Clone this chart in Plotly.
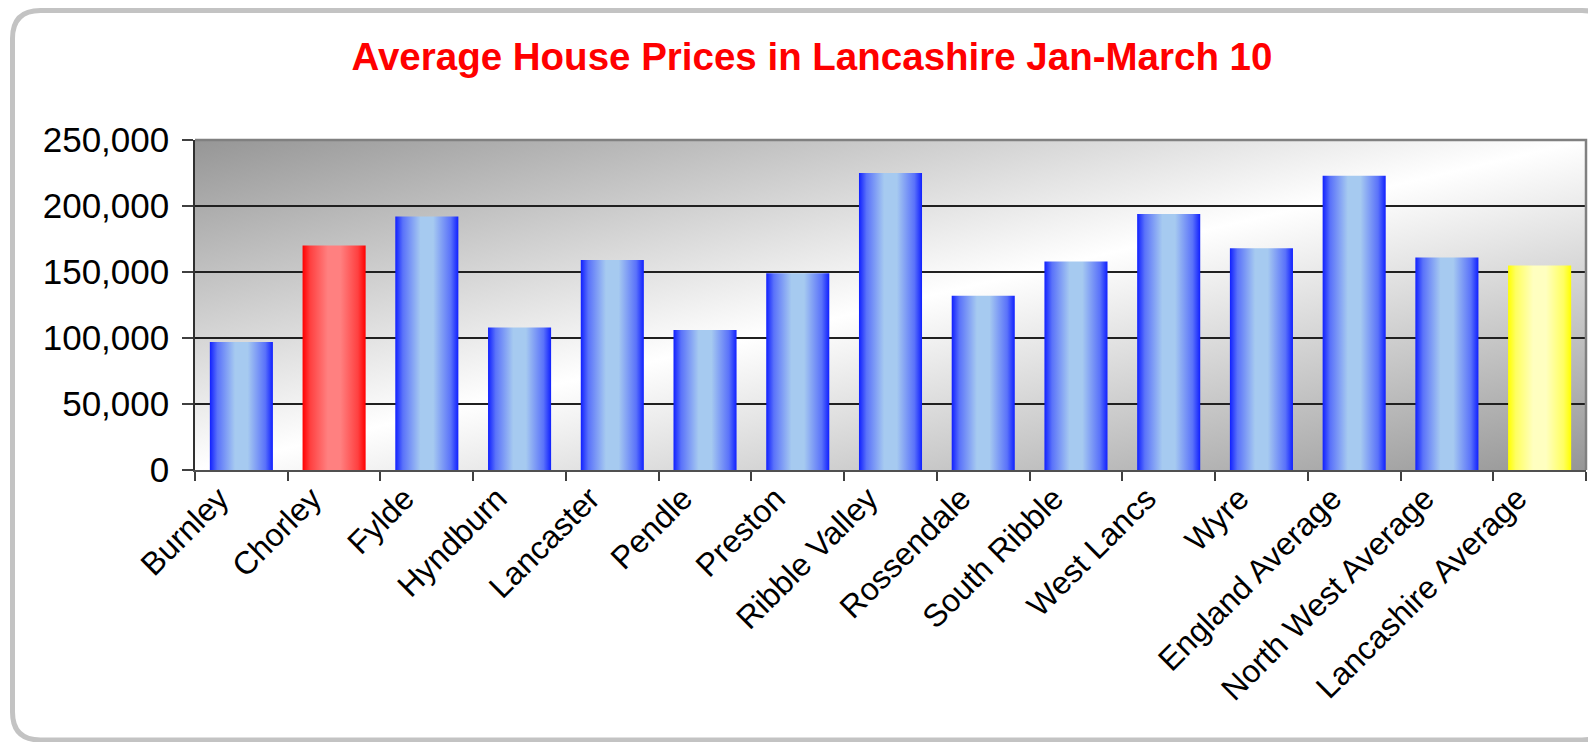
import base64
import plotly.graph_objects as go

# ---------------- data ----------------
categories = ["Burnley", "Chorley", "Fylde", "Hyndburn", "Lancaster", "Pendle",
              "Preston", "Ribble Valley", "Rossendale", "South Ribble", "West Lancs",
              "Wyre", "England Average", "North West Average", "Lancashire Average"]
prices = [97000, 170000, 192000, 108000, 159000, 106000, 149000, 225000,
          132000, 158000, 194000, 168000, 223000, 161000, 155000]
bar_palette = ["blue", "red", "blue", "blue", "blue", "blue", "blue", "blue",
               "blue", "blue", "blue", "blue", "blue", "blue", "yellow"]
y_ticks = [0, 50000, 100000, 150000, 200000, 250000]
title_text = "Average House Prices in Lancashire Jan-March 10"

# ---------------- styling ----------------
WIN_W, WIN_H = 1596, 742
OFF = 8                                   # default page (body) margin
W, H = WIN_W - OFF, WIN_H - OFF           # figure size
PL, PR, PT, PB = 195, 1586, 140, 470      # plot area, window pixels
FONT = "Liberation Sans, Arial, sans-serif"
BAR_WIDTH = 0.68

gradients = {
    "blue": [[0, "#1020ff"], [0.12, "#5a72fa"], [0.4, "#a6caf0"],
             [0.6, "#a6caf0"], [0.88, "#5a72fa"], [1, "#1020ff"]],
    "red": [[0, "#ff0000"], [0.12, "#ff4040"], [0.4, "#ff8080"],
            [0.6, "#ff8080"], [0.88, "#ff4040"], [1, "#ff0000"]],
    "yellow": [[0, "#ffff00"], [0.12, "#ffff60"], [0.4, "#ffffc0"],
               [0.6, "#ffffc0"], [0.88, "#ffff60"], [1, "#ffff00"]],
}

fig = go.Figure()

for i, (cat, val, pal) in enumerate(zip(categories, prices, bar_palette)):
    x0, x1 = i - BAR_WIDTH / 2, i + BAR_WIDTH / 2
    fig.add_trace(go.Scatter(
        x=[x0, x0, x1, x1, x0], y=[0, val, val, 0, 0],
        mode="lines", fill="toself", line=dict(width=0),
        fillgradient=dict(type="horizontal", colorscale=gradients[pal]),
        name=cat, hoverinfo="text", text=f"{cat}: {val:,}", showlegend=False,
    ))

# plot-area background gradient (diagonal)
svg = ('<svg xmlns="http://www.w3.org/2000/svg" width="100" height="100" '
       'viewBox="0 0 100 100" preserveAspectRatio="none"><defs>'
       '<linearGradient id="g" x1="0" y1="0" x2="1" y2="1">'
       '<stop offset="0" stop-color="#969696"/>'
       '<stop offset="0.5" stop-color="#ffffff"/>'
       '<stop offset="1" stop-color="#969696"/>'
       '</linearGradient></defs>'
       '<rect width="100" height="100" fill="url(#g)"/></svg>')
bg_src = "data:image/svg+xml;base64," + base64.b64encode(svg.encode()).decode()


def px_to_paper(px, py):
    return (px - PL) / (PR - PL), (PB - py) / (PB - PT)


# rounded outer frame (decoration)
fl, ft, fr, fb, rad = 12.5, 10.5, 1610, 740, 28
pts = [("M", fl, ft + rad), ("Q", fl, ft, fl + rad, ft), ("L", fr - rad, ft),
       ("Q", fr, ft, fr, ft + rad), ("L", fr, fb - rad), ("Q", fr, fb, fr - rad, fb),
       ("L", fl + rad, fb), ("Q", fl, fb, fl, fb - rad), ("Z",)]
path = ""
for p in pts:
    s = p[0]
    coords = p[1:]
    for k in range(0, len(coords), 2):
        xx, yy = px_to_paper(coords[k], coords[k + 1])
        s += f"{xx:.5f},{yy:.5f} "
    path += s
fig.add_shape(type="path", path=path.strip(), xref="paper", yref="paper",
              line=dict(color="#c3c3c3", width=5), layer="above")

# top & right border of plot area
fig.add_shape(type="path", path="M 0,1 L 1,1 L 1,0", xref="paper", yref="paper",
              line=dict(color="#808080", width=2.5), layer="above")

fig.update_layout(
    width=W, height=H,
    margin=dict(l=PL - OFF, r=WIN_W - PR, t=PT - OFF, b=WIN_H - PB, pad=0),
    paper_bgcolor="white", plot_bgcolor="rgba(0,0,0,0)",
    font=dict(family=FONT, color="black"),
    title=dict(text=title_text, x=(812 - OFF) / W, xanchor="center", xref="container",
               y=1 - (57 - OFF) / H, yanchor="middle", yref="container",
               font=dict(family=FONT, size=38.5, color="#ff0000", weight="bold")),
    images=[dict(source=bg_src, xref="paper", yref="paper", x=0, y=1,
                 sizex=1, sizey=1, xanchor="left", yanchor="top",
                 sizing="stretch", layer="below")],
    xaxis=dict(
        range=[-0.5, len(categories) - 0.5], tickmode="array",
        tickvals=list(range(len(categories))), ticktext=categories,
        tickangle=-45, ticks="", tickfont=dict(size=32, family=FONT),
        ticklabelshift=-22, ticklabelstandoff=-5,
        showgrid=False, zeroline=False, showline=True, linecolor="#505050",
        linewidth=2,
        minor=dict(tickvals=[i - 0.5 for i in range(len(categories) + 1)],
                   ticks="outside", ticklen=9, tickwidth=1.5,
                   tickcolor="#404040", showgrid=False),
    ),
    yaxis=dict(
        range=[0, 250000], tickmode="array", tickvals=y_ticks,
        tickformat=",", ticks="outside", ticklen=11, tickwidth=1.5,
        tickcolor="#404040", tickfont=dict(size=35, family=FONT),
        showgrid=True, gridcolor="#202020", gridwidth=1.5,
        zeroline=False, showline=True, linecolor="#303030", linewidth=1.5,
        ticklabelstandoff=6,
    ),
)

fig.write_html("out.html")
